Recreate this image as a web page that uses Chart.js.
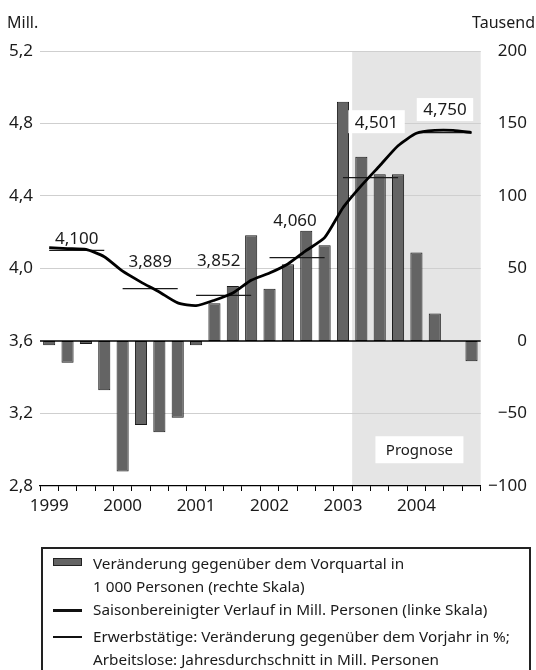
<!DOCTYPE html>
<html>
<head>
<meta charset="utf-8">
<script src="https://cdn.jsdelivr.net/npm/chart.js@4.4.0/dist/chart.umd.min.js"></script>
<style>
  body { margin: 0; background: #fff; }
  #wrap { position: relative; width: 536px; height: 670px; overflow: hidden; font-family: "Noto Sans", sans-serif; color: #1a1a1a; }
  #chart { position: absolute; left: 0; top: 0; }
  .unit { position: absolute; top: 11px; font-size: 16px; line-height: 22px; }
  #legendBox { position: absolute; left: 41px; top: 547px; width: 490px; height: 140px; border: 2px solid #222; box-sizing: border-box; }
  .sw { position: absolute; left: 53px; width: 29px; box-sizing: border-box; }
  .lt { position: absolute; left: 93px; font-size: 15.3px; line-height: 23.4px; white-space: nowrap; }
</style>
</head>
<body>
<div id="wrap">
  <canvas id="chart" width="536" height="670"></canvas>
  <div class="unit" style="left:7px">Mill.</div>
  <div class="unit" style="right:1px">Tausend</div>
  <div id="legendBox"></div>
  <div class="sw" style="top:558px;height:8px;background:#646464;border:1px solid #222"></div>
  <div class="lt" style="top:551.8px">Veränderung gegenüber dem Vorquartal in<br>1 000 Personen (rechte Skala)</div>
  <div class="sw" style="top:608.5px;height:3px;background:#111"></div>
  <div class="lt" style="top:598.3px">Saisonbereinigter Verlauf in Mill. Personen (linke Skala)</div>
  <div class="sw" style="top:636px;height:1.5px;background:#111"></div>
  <div class="lt" style="top:625px">Erwerbstätige: Veränderung gegenüber dem Vorjahr in %;<br>Arbeitslose: Jahresdurchschnitt in Mill. Personen</div>
</div>
<script>
var years = ['1999', '2000', '2001', '2002', '2003', '2004'];

// Veränderung gegenüber dem Vorquartal, Tausend (rechte Skala)
var changeThousand = [-3, -15, -2, -34, -90, -58, -63, -53,
                      -3, 26, 38, 73, 36, 53, 76, 66,
                      165, 127, 115, 115, 61, 19, 0, -14];

// Saisonbereinigter Verlauf, Mill. (linke Skala)
var seasonalMill = [4.115, 4.11, 4.105, 4.065, 3.985, 3.925, 3.87, 3.81,
                    3.795, 3.825, 3.865, 3.935, 3.975, 4.025, 4.10, 4.17,
                    4.335, 4.457, 4.567, 4.677, 4.746, 4.762, 4.762, 4.75];

// Jahresdurchschnitt
var annualAvg = [4.100, 3.889, 3.852, 4.060, 4.501, 4.750];
var annualText = ['4,100', '3,889', '3,852', '4,060', '4,501', '4,750'];

var quarters = [];
years.forEach(function(y) {
    for (var q = 1; q <= 4; q++) quarters.push(y + ' Q' + q);
});
var forecastFrom = 17; // Q2 2003

// label offsets (px) relative to the annual segment centre, and white box flag
var labelShift = [[0, -12], [0, -27], [-5, -35], [-2, -37], [6, -56], [1, -23]];
var labelBox = [false, false, false, false, true, true];

var annualSets = annualAvg.map(function(v, i) {
    return {
        type: 'line',
        label: 'Jahresdurchschnitt ' + years[i],
        data: quarters.map(function(q, j) { return Math.floor(j / 4) === i ? v : null; }),
        yAxisID: 'y',
        borderColor: '#1a1a1a',
        borderWidth: 1.3,
        pointRadius: 0,
        spanGaps: false,
        order: 1
    };
});

var shadePlugin = {
    id: 'shade',
    beforeDraw: function(chart) {
        var a = chart.chartArea, x = chart.scales.x, ctx = chart.ctx;
        var half = (x.getPixelForValue(1) - x.getPixelForValue(0)) / 2;
        var x0 = x.getPixelForValue(forecastFrom) - half;
        ctx.save();
        ctx.fillStyle = '#e5e5e5';
        ctx.fillRect(x0, a.top, a.right - x0, a.bottom - a.top);
        ctx.restore();
    },
    afterDatasetsDraw: function(chart) {
        var a = chart.chartArea, x = chart.scales.x, y = chart.scales.y, y1 = chart.scales.y1, ctx = chart.ctx;
        ctx.save();
        // zero line
        var zy = y.getPixelForValue(3.6);
        ctx.strokeStyle = '#000';
        ctx.lineWidth = 1.6;
        ctx.beginPath();
        ctx.moveTo(a.left, zy);
        ctx.lineTo(a.right, zy);
        ctx.stroke();

        // annual labels
        ctx.font = '17px "Noto Sans"';
        ctx.textAlign = 'center';
        ctx.textBaseline = 'middle';
        annualAvg.forEach(function(v, i) {
            var cx = (x.getPixelForValue(i * 4) + x.getPixelForValue(i * 4 + 3)) / 2 + labelShift[i][0];
            var cy = y.getPixelForValue(v) + labelShift[i][1];
            if (labelBox[i]) {
                var w = ctx.measureText(annualText[i]).width + 13;
                ctx.fillStyle = '#fff';
                ctx.fillRect(cx - w / 2, cy - 11.5, w, 23);
            }
            ctx.fillStyle = '#1a1a1a';
            ctx.fillText(annualText[i], cx, cy + 1);
        });

        // Prognose
        var half = (x.getPixelForValue(1) - x.getPixelForValue(0)) / 2;
        var px = (x.getPixelForValue(forecastFrom) - half + a.right) / 2 + 3;
        var py = y1.getPixelForValue(-75);
        ctx.fillStyle = '#fff';
        ctx.fillRect(px - 44, py - 13.5, 88, 27);
        ctx.font = '15px "Noto Sans"';
        ctx.fillStyle = '#1a1a1a';
        ctx.fillText('Prognose', px, py + 1);
        ctx.restore();
    }
};

var chart = new Chart(document.getElementById('chart'), {
    type: 'bar',
    data: {
        labels: quarters,
        datasets: [{
            type: 'line',
            label: 'Saisonbereinigter Verlauf',
            data: seasonalMill,
            yAxisID: 'y',
            borderColor: '#000',
            borderWidth: 2.8,
            pointRadius: 0,
            tension: 0.2,
            order: 0
        }].concat(annualSets).concat([{
            type: 'bar',
            label: 'Veränderung gegenüber dem Vorquartal',
            data: changeThousand,
            yAxisID: 'y1',
            backgroundColor: '#646464',
            borderColor: '#1a1a1a',
            borderWidth: 1,
            borderSkipped: false,
            categoryPercentage: 1,
            barPercentage: 0.66,
            order: 2
        }])
    },
    options: {
        responsive: false,
        animation: false,
        layout: { padding: { left: 0, right: 9, top: 51, bottom: 154 } },
        plugins: {
            legend: { display: false },
            tooltip: { enabled: false }
        },
        scales: {
            x: {
                offset: true,
                afterFit: function(s) { s.height = 30; },
                grid: { offset: true, drawOnChartArea: false, drawTicks: true, tickLength: 5, color: '#000', lineWidth: 1 },
                border: { display: true, color: '#000', width: 1.2 },
                ticks: {
                    autoSkip: false,
                    maxRotation: 0,
                    padding: 5,
                    color: '#1a1a1a',
                    font: { family: 'Noto Sans', size: 17 },
                    callback: function(value) {
                        var l = this.getLabelForValue(value);
                        return l.slice(-2) === 'Q1' ? l.slice(0, 4) : '';
                    }
                }
            },
            y: {
                position: 'left',
                min: 2.8,
                max: 5.2,
                afterFit: function(s) { s.width = 40; },
                border: { display: false },
                grid: {
                    drawTicks: false,
                    lineWidth: 1,
                    color: function(c) {
                        var v = c.tick ? c.tick.value : 0;
                        if (Math.abs(v - 3.6) < 1e-6 || Math.abs(v - 2.8) < 1e-6) return 'rgba(0,0,0,0)';
                        return '#cfcfcf';
                    }
                },
                ticks: {
                    stepSize: 0.4,
                    padding: 7,
                    color: '#1a1a1a',
                    font: { family: 'Noto Sans', size: 17 },
                    callback: function(v) { return v.toFixed(1).replace('.', ','); }
                }
            },
            y1: {
                position: 'right',
                min: -100,
                max: 200,
                afterFit: function(s) { s.width = 46.3; },
                border: { display: false },
                grid: { display: false, drawTicks: false },
                ticks: {
                    stepSize: 50,
                    crossAlign: 'far',
                    color: '#1a1a1a',
                    font: { family: 'Noto Sans', size: 17 },
                    callback: function(v) { return v < 0 ? '\u2212' + Math.abs(v) : String(v); }
                }
            }
        }
    },
    plugins: [shadePlugin]
});
</script>
</body>
</html>
